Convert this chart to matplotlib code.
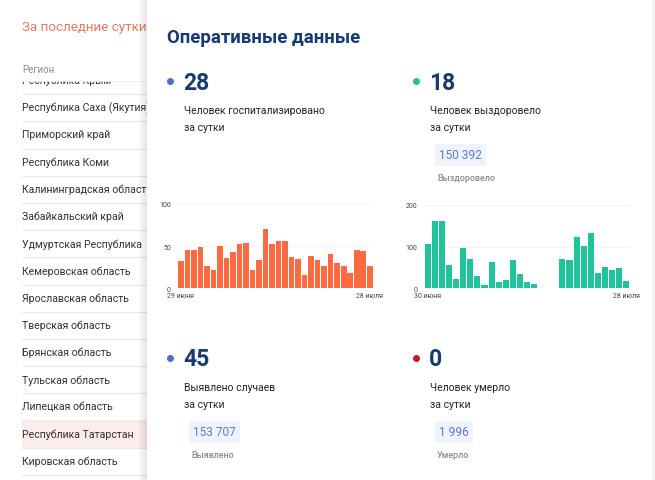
import numpy as np
import matplotlib
matplotlib.use("Agg")
import matplotlib.pyplot as plt
from matplotlib.patches import Rectangle

plt.rcParams['font.family'] = ['Roboto', 'DejaVu Sans']

# data
regions = ["Республика Крым", "Республика Саха (Якутия)", "Приморский край", "Республика Коми",
           "Калининградская область", "Забайкальский край", "Удмуртская Республика",
           "Кемеровская область", "Ярославская область", "Тверская область", "Брянская область",
           "Тульская область", "Липецкая область", "Республика Татарстан", "Кировская область"]
highlight = "Республика Татарстан"

hosp = [32, 45, 46, 49, 26, 22, 50, 36, 43, 52, 54, 22, 34, 70, 52,
        56, 56, 37, 35, 16, 38, 34, 27, 41, 30, 26, 18, 46, 44, 27]
hosp_dates = ["29 июня", "28 июля"]

recov = [106, 162, 162, 56, 22, 97, 70, 30, 7, 63, 15, 20, 68, 34, 15,
         10, 1, np.nan, np.nan, 70, 68, 122, 102, 132, 37, 50, 43, 49, 17]
recov_dates = ["30 июня", "28 июля"]

cards = [
    # value, caption, total, total label, dot colour
    ("28", "Человек госпитализировано\nза сутки", None, None, "#4a6fd0"),
    ("18", "Человек выздоровело\nза сутки", "150 392", "Выздоровело", "#22c29c"),
    ("45", "Выявлено случаев\nза сутки", "153 707", "Выявлено", "#4a6fd0"),
    ("0", "Человек умерло\nза сутки", "1 996", "Умерло", "#c3182c"),
]

W, H = 655, 481
fig = plt.figure(figsize=(W / 100, H / 100), dpi=100)
bg = fig.add_axes([0, 0, 1, 1])
bg.set_xlim(0, W)
bg.set_ylim(H, 0)
bg.axis("off")

navy = "#173a72"

# left page (behind the overlay), the list is scrolled so the first row is cut
row0, pitch = 81.1, 27.2
for i, name in enumerate(regions):
    yc = row0 + i * pitch
    if name == highlight:
        bg.add_patch(Rectangle((22, yc - 13.2), 130, 27.2, color="#fcecec", lw=0, zorder=0.5))
    bg.text(22, yc, name, color="#333333", fontsize=7.6, va="center", zorder=1)
    bg.plot([22, 150], [yc + 14, yc + 14], color="#e9e9e9", lw=0.8, zorder=1)
bg.add_patch(Rectangle((0, 0), 150, 81.6, color="white", lw=0, zorder=2))
bg.text(22, 28, "За последние сутки", color="#e2775f", fontsize=9.6, va="center", zorder=3)
bg.text(22, 70, "Регион", color="#8a8a8a", fontsize=7, va="center", zorder=3)
bg.plot([22, 150], [81.7, 81.7], color="#efefef", lw=0.6, zorder=3)

# overlay panel with a soft shadow
for k, a in enumerate(np.linspace(0.02, 0.10, 8)):
    bg.add_patch(Rectangle((139 + k, 0), 1, H, color="black", alpha=a, lw=0, zorder=4))
bg.add_patch(Rectangle((652, 0), 3, H, color="#f2f2f2", lw=0, zorder=4))
bg.add_patch(Rectangle((147, 0), 505, H, color="white", lw=0, zorder=5))

bg.text(167, 38, "Оперативные данные", color=navy, fontsize=13.4, fontweight="bold",
        va="center", zorder=6)

pos = [(170, 82), (416, 82), (170, 359), (416, 359)]
for (val, cap, tot, totlab, dot), (x, y) in zip(cards, pos):
    bg.plot(x, y, "o", color=dot, ms=4, zorder=6)
    bg.text(x + 13, y + 1, val, color=navy, fontsize=16.5, fontweight="bold", va="center", zorder=6)
    bg.text(x + 14, y + 37.5, cap, color="#222222", fontsize=7.5, va="center",
            linespacing=1.8, zorder=6, ha="left")
    if tot:
        bg.text(x + 23, y + 74, tot, color="#5a7bd2", fontsize=8.6, va="center", zorder=7,
                bbox=dict(boxstyle="square,pad=0.35", fc="#eef3fc", ec="none"))
        bg.text(x + 21, y + 96.5, totlab, color="#8a8a8a", fontsize=6.4, fontweight="medium",
                va="center", zorder=7)


def bar_chart(left, right, y0, ytop, values, ymax, ticks, dates, color):
    ax = fig.add_axes([left / W, 1 - y0 / H, (right - left) / W, (y0 - ytop) / H])
    n = len(values)
    x = np.arange(n)
    ax.bar(x, values, width=0.86, color=color, zorder=3)
    ax.set_xlim(-0.5, n - 0.5)
    ax.set_ylim(0, ymax)
    ax.set_yticks(ticks)
    ax.set_yticklabels([str(t) for t in ticks])
    ax.set_xticks([0, n - 1])
    ax.set_xticklabels(dates)
    for t in ticks[1:]:
        ax.axhline(t, color="#f3f3f3", lw=0.6, zorder=1)
    ax.tick_params(length=0, labelsize=5, colors="#444444", pad=5)
    ax.tick_params(axis="x", pad=3)
    for s in ax.spines.values():
        s.set_visible(False)
    ax.set_facecolor("none")
    return ax


bar_chart(177.7, 373, 289.3, 205, hosp, 100, [0, 50, 100], hosp_dates, "#fb6a40")
bar_chart(424.3, 629.7, 289.3, 206, recov, 200, [0, 100, 200], recov_dates, "#20c39b")

fig.savefig("out.png", dpi=100)
